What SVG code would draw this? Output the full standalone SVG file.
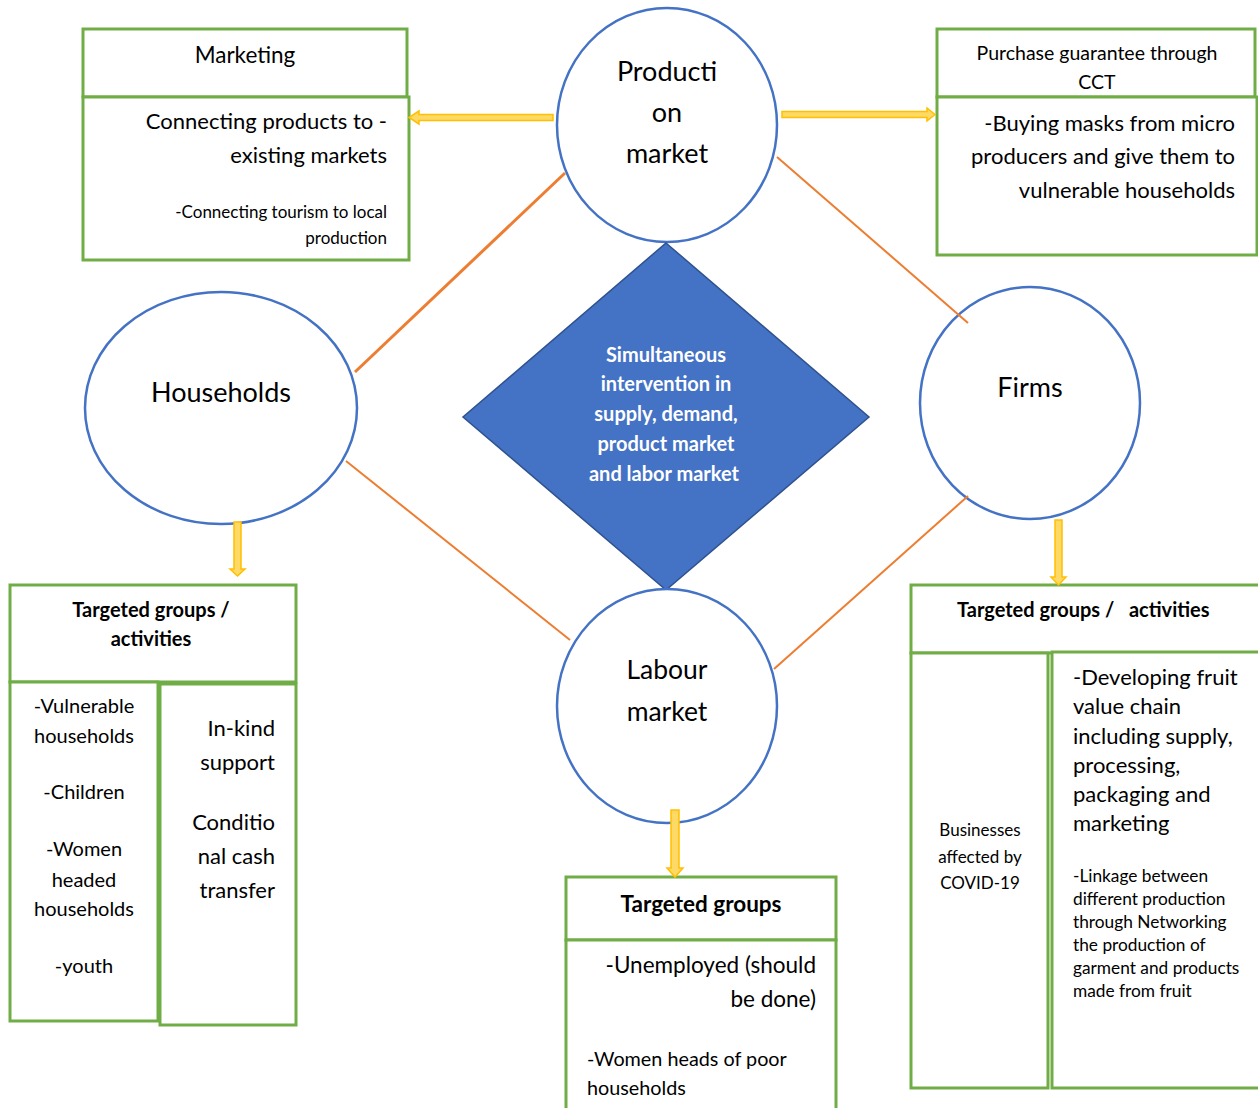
<svg xmlns="http://www.w3.org/2000/svg" width="1258" height="1108" viewBox="0 0 1258 1108">
<style>
.box{fill:#fff;stroke:#70AD47;stroke-width:3}
.circ{fill:#fff;stroke:#4472C4;stroke-width:2.5}
.conn{stroke:#ED7D31;stroke-width:2;fill:none}
.arr{fill:#FFD966;stroke:#FFC000;stroke-width:1.5}
text{font-family:Lato,"Open Sans","Liberation Sans",sans-serif;fill:#000}
.c{text-anchor:middle}
.r{text-anchor:end}
.b{font-weight:bold}
.w{fill:#fff;font-weight:bold}
</style>
<rect width="1258" height="1108" fill="#fff"/>
<g id="marketing">
<rect class="box" x="83" y="29" width="324" height="68"/>
<rect class="box" x="83" y="97" width="326" height="163"/>
<text class="c" x="245" y="63" font-size="22.5">Marketing</text>
<text class="r" x="387" y="129" font-size="22">Connecting products to -</text>
<text class="r" x="387" y="163" font-size="22">existing markets</text>
<text class="r" x="387" y="218" font-size="17">-Connecting tourism to local</text>
<text class="r" x="387" y="244" font-size="17">production</text>
</g>
<g id="purchase">
<rect class="box" x="937" y="29" width="318" height="68"/>
<rect class="box" x="937" y="97" width="320" height="158"/>
<text class="c" x="1097" y="60" font-size="19.5">Purchase guarantee through</text>
<text class="c" x="1097" y="89" font-size="19.5">CCT</text>
<text class="r" x="1235" y="131" font-size="22">-Buying masks from micro</text>
<text class="r" x="1235" y="164" font-size="22">producers and give them to</text>
<text class="r" x="1235" y="198" font-size="22">vulnerable households</text>
</g>
<g id="production-market">
<ellipse class="circ" cx="667" cy="125" rx="110" ry="117"/>
<text class="c" x="667" y="81" font-size="27">Producti</text>
<text class="c" x="667" y="122" font-size="27">on</text>
<text class="c" x="667" y="163" font-size="27">market</text>
</g>
<g id="households">
<ellipse class="circ" cx="221" cy="408" rx="136" ry="116"/>
<text class="c" x="221" y="402" font-size="27">Households</text>
</g>
<g id="firms">
<ellipse class="circ" cx="1030" cy="403" rx="110" ry="116"/>
<text class="c" x="1030" y="397" font-size="27">Firms</text>
</g>
<g id="intervention">
<polygon points="666,243 869,417 666,590 463,417" fill="#4472C4" stroke="#2F528F" stroke-width="1.5"/>
<text class="c w" x="666" y="362" font-size="20">Simultaneous</text>
<text class="c w" x="666" y="391" font-size="20">intervention in</text>
<text class="c w" x="666" y="421" font-size="20">supply, demand,</text>
<text class="c w" x="666" y="451" font-size="20">product market</text>
<text class="c w" x="664" y="481" font-size="20">and labor market</text>
</g>
<g id="labour-market">
<ellipse class="circ" cx="667" cy="706" rx="110" ry="117"/>
<text class="c" x="667" y="679" font-size="26.5">Labour</text>
<text class="c" x="667" y="721" font-size="26.5">market</text>
</g>
<g id="households-targets">
<rect class="box" x="10" y="585" width="286" height="97"/>
<rect class="box" x="10" y="682" width="148" height="339"/>
<rect class="box" x="160" y="684" width="136" height="341"/>
<text class="c b" x="151" y="617" font-size="20">Targeted groups /</text>
<text class="c b" x="151" y="646" font-size="20">activities</text>
<text class="c" x="84" y="713" font-size="20">-Vulnerable</text>
<text class="c" x="84" y="743" font-size="20">households</text>
<text class="c" x="84" y="799" font-size="20">-Children</text>
<text class="c" x="84" y="856" font-size="20">-Women</text>
<text class="c" x="84" y="887" font-size="20">headed</text>
<text class="c" x="84" y="916" font-size="20">households</text>
<text class="c" x="84" y="973" font-size="20">-youth</text>
<text class="r" x="275" y="736" font-size="22">In-kind</text>
<text class="r" x="275" y="770" font-size="22">support</text>
<text class="r" x="275" y="830" font-size="22">Conditio</text>
<text class="r" x="275" y="864" font-size="22">nal cash</text>
<text class="r" x="275" y="898" font-size="22">transfer</text>
</g>
<g id="firms-targets">
<rect class="box" x="911" y="585" width="352" height="68"/>
<rect class="box" x="911" y="653" width="137" height="435"/>
<rect class="box" x="1052" y="652" width="211" height="436"/>
<text class="b" x="957" y="617" font-size="20" xml:space="preserve">Targeted groups /   activities</text>
<text class="c" x="980" y="836" font-size="17">Businesses</text>
<text class="c" x="980" y="863" font-size="17">affected by</text>
<text class="c" x="980" y="889" font-size="17">COVID-19</text>
<text x="1073" y="685" font-size="22">-Developing fruit</text>
<text x="1073" y="714" font-size="22">value chain</text>
<text x="1073" y="744" font-size="22">including supply,</text>
<text x="1073" y="773" font-size="22">processing,</text>
<text x="1073" y="802" font-size="22">packaging and</text>
<text x="1073" y="831" font-size="22">marketing</text>
<text x="1073" y="882" font-size="17.3">-Linkage between</text>
<text x="1073" y="905" font-size="17.3">different production</text>
<text x="1073" y="928" font-size="17.3">through Networking</text>
<text x="1073" y="951" font-size="17.3">the production of</text>
<text x="1073" y="974" font-size="17.3">garment and products</text>
<text x="1073" y="997" font-size="17.3">made from fruit</text>
</g>
<g id="labour-targets">
<rect class="box" x="566" y="877" width="270" height="63"/>
<rect class="box" x="566" y="940" width="270" height="175"/>
<text class="c b" x="701" y="912" font-size="22.5">Targeted groups</text>
<text class="r" x="816" y="973" font-size="22.5">-Unemployed (should</text>
<text class="r" x="816" y="1007" font-size="22.5">be done)</text>
<text x="587" y="1066" font-size="19.8">-Women heads of poor</text>
<text x="587" y="1095" font-size="19.8">households</text>
</g>
<g id="connectors">
<line class="conn" x1="355" y1="372" x2="565" y2="173" style="stroke-width:3"/>
<line class="conn" x1="777" y1="157" x2="968" y2="323"/>
<line class="conn" x1="346" y1="461" x2="570" y2="640"/>
<line class="conn" x1="968" y1="496" x2="774" y2="669"/>
<polygon class="arr" points="553,114.5 419,114.5 419,111 409,117.5 419,124 419,120.5 553,120.5"/>
<polygon class="arr" points="782,111.5 927,111.5 927,108 935,114.5 927,121 927,117.5 782,117.5"/>
<polygon class="arr" points="234,522 241,522 241,569 245,569 237.5,576 230,569 234,569"/>
<polygon class="arr" points="1055,520 1062,520 1062,577 1066,577 1058.5,585 1051,577 1055,577"/>
<polygon class="arr" points="671,810 679,810 679,868 683,868 675,877 667,868 671,868"/>
</g>
</svg>
